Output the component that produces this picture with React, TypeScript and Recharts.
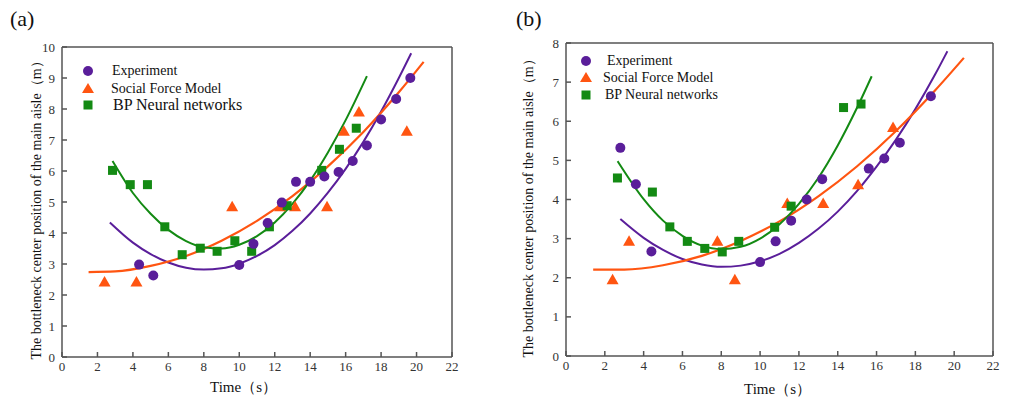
import React from 'react';
import { ComposedChart, Line, Scatter, XAxis, YAxis } from 'recharts';

const xTicks = [0, 2, 4, 6, 8, 10, 12, 14, 16, 18, 20, 22];
const yTicksA = [0, 1, 2, 3, 4, 5, 6, 7, 8, 9, 10];
const yTicksB = [0, 1, 2, 3, 4, 5, 6, 7, 8];

// panel (a) measured points
const expA = [
  { x: 4.35, y: 2.98 }, { x: 5.15, y: 2.63 }, { x: 10.0, y: 2.97 }, { x: 10.8, y: 3.65 },
  { x: 11.6, y: 4.32 }, { x: 12.4, y: 4.98 }, { x: 13.2, y: 5.65 }, { x: 14.0, y: 5.65 },
  { x: 14.8, y: 5.82 }, { x: 15.6, y: 5.97 }, { x: 16.4, y: 6.32 }, { x: 17.2, y: 6.82 },
  { x: 18.0, y: 7.66 }, { x: 18.85, y: 8.32 }, { x: 19.65, y: 9.0 },
];
const sfmA = [
  { x: 2.4, y: 2.42 }, { x: 4.2, y: 2.42 }, { x: 9.6, y: 4.85 }, { x: 12.3, y: 4.85 },
  { x: 13.15, y: 4.85 }, { x: 14.95, y: 4.85 }, { x: 15.9, y: 7.28 }, { x: 16.75, y: 7.9 },
  { x: 19.45, y: 7.28 },
];
const bpA = [
  { x: 2.85, y: 6.02 }, { x: 3.85, y: 5.56 }, { x: 4.82, y: 5.56 }, { x: 5.8, y: 4.2 },
  { x: 6.78, y: 3.3 }, { x: 7.8, y: 3.51 }, { x: 8.75, y: 3.41 }, { x: 9.75, y: 3.75 },
  { x: 10.7, y: 3.41 }, { x: 11.7, y: 4.2 }, { x: 12.7, y: 4.88 }, { x: 14.65, y: 6.02 },
  { x: 15.65, y: 6.7 }, { x: 16.6, y: 7.38 },
];
// panel (a) fitted curves
const fitExpA = [
  { x: 2.7, y: 4.34 }, { x: 4, y: 3.69 }, { x: 5, y: 3.32 }, { x: 6, y: 3.05 }, { x: 7, y: 2.88 },
  { x: 8, y: 2.82 }, { x: 9, y: 2.86 }, { x: 10, y: 3.01 }, { x: 11, y: 3.26 }, { x: 12, y: 3.61 },
  { x: 13, y: 4.07 }, { x: 14, y: 4.63 }, { x: 15, y: 5.3 }, { x: 16, y: 6.07 }, { x: 17, y: 6.94 },
  { x: 18, y: 7.92 }, { x: 19, y: 9.0 }, { x: 19.7, y: 9.8 },
];
const fitSfmA = [
  { x: 1.5, y: 2.74 }, { x: 3, y: 2.76 }, { x: 5, y: 2.94 }, { x: 7, y: 3.26 }, { x: 9, y: 3.75 },
  { x: 11, y: 4.39 }, { x: 13, y: 5.19 }, { x: 15, y: 6.15 }, { x: 17, y: 7.26 }, { x: 19, y: 8.54 },
  { x: 20.4, y: 9.52 },
];
const fitBpA = [
  { x: 2.85, y: 6.32 }, { x: 4, y: 5.29 }, { x: 5, y: 4.62 }, { x: 6, y: 4.1 }, { x: 7, y: 3.74 },
  { x: 8, y: 3.54 }, { x: 9, y: 3.5 }, { x: 10, y: 3.62 }, { x: 11, y: 3.9 }, { x: 12, y: 4.34 },
  { x: 13, y: 4.94 }, { x: 14, y: 5.69 }, { x: 15, y: 6.6 }, { x: 16, y: 7.64 }, { x: 17.2, y: 9.06 },
];

// panel (b) measured points
const expB = [
  { x: 2.8, y: 5.32 }, { x: 3.6, y: 4.39 }, { x: 4.4, y: 2.67 }, { x: 10.0, y: 2.4 },
  { x: 10.8, y: 2.93 }, { x: 11.6, y: 3.46 }, { x: 12.4, y: 4.0 }, { x: 13.2, y: 4.52 },
  { x: 15.6, y: 4.79 }, { x: 16.4, y: 5.05 }, { x: 17.2, y: 5.45 }, { x: 18.8, y: 6.64 },
];
const sfmB = [
  { x: 2.4, y: 1.95 }, { x: 3.25, y: 2.93 }, { x: 7.8, y: 2.93 }, { x: 8.7, y: 1.95 },
  { x: 11.4, y: 3.9 }, { x: 13.25, y: 3.9 }, { x: 15.05, y: 4.38 }, { x: 16.85, y: 5.84 },
];
const bpB = [
  { x: 2.65, y: 4.55 }, { x: 4.45, y: 4.19 }, { x: 5.35, y: 3.3 }, { x: 6.25, y: 2.93 },
  { x: 7.15, y: 2.75 }, { x: 8.05, y: 2.66 }, { x: 8.9, y: 2.93 }, { x: 10.75, y: 3.29 },
  { x: 11.6, y: 3.83 }, { x: 14.3, y: 6.35 }, { x: 15.2, y: 6.44 },
];
const fitExpB = [
  { x: 2.8, y: 3.5 }, { x: 4, y: 3.02 }, { x: 5, y: 2.71 }, { x: 6, y: 2.48 }, { x: 7, y: 2.34 },
  { x: 8, y: 2.28 }, { x: 9, y: 2.31 }, { x: 10, y: 2.42 }, { x: 11, y: 2.61 }, { x: 12, y: 2.89 },
  { x: 13, y: 3.25 }, { x: 14, y: 3.69 }, { x: 15, y: 4.22 }, { x: 16, y: 4.84 }, { x: 17, y: 5.53 },
  { x: 18, y: 6.31 }, { x: 19, y: 7.18 }, { x: 19.65, y: 7.79 },
];
const fitSfmB = [
  { x: 1.4, y: 2.21 }, { x: 3, y: 2.21 }, { x: 5, y: 2.32 }, { x: 7, y: 2.56 }, { x: 9, y: 2.94 },
  { x: 11, y: 3.44 }, { x: 13, y: 4.08 }, { x: 15, y: 4.85 }, { x: 17, y: 5.75 }, { x: 19, y: 6.78 },
  { x: 20.5, y: 7.62 },
];
const fitBpB = [
  { x: 2.66, y: 4.98 }, { x: 4, y: 4.01 }, { x: 5, y: 3.46 }, { x: 6, y: 3.07 }, { x: 7, y: 2.82 },
  { x: 8, y: 2.73 }, { x: 9, y: 2.79 }, { x: 10, y: 3.0 }, { x: 11, y: 3.37 }, { x: 12, y: 3.89 },
  { x: 13, y: 4.55 }, { x: 14, y: 5.38 }, { x: 15, y: 6.35 }, { x: 15.75, y: 7.15 },
];

const PURPLE = '#5a1e9a';
const ORANGE = '#ff5511';
const GREEN = '#138a13';
const AXIS = '#555';
const SERIF = 'Liberation Serif, Times New Roman, serif';

const Circle = (p: any) => <circle cx={p.cx} cy={p.cy} r={5} fill={PURPLE} />;
const Tri = (p: any) => (
  <polygon points={`${p.cx},${p.cy - 6} ${p.cx - 6},${p.cy + 4.5} ${p.cx + 6},${p.cy + 4.5}`} fill={ORANGE} />
);
const Sq = (p: any) => <rect x={p.cx - 4.5} y={p.cy - 4.5} width={9} height={9} fill={GREEN} />;

const tickStyle = { fontFamily: SERIF, fontSize: 13, fill: '#333' };

function LegendBox({ left, top, rows, sizes, gaps }: { left: number; top: number; rows: number[]; sizes: number[]; gaps: number[] }) {
  const items = [
    { name: 'Experiment', m: <circle cx={6} cy={6} r={5} fill={PURPLE} /> },
    { name: 'Social Force Model', m: <polygon points="6,0 0,10 12,10" fill={ORANGE} /> },
    { name: 'BP Neural networks', m: <rect x={1.5} y={1.5} width={9} height={9} fill={GREEN} /> },
  ];
  return (
    <div style={{ position: 'absolute', left, top, fontFamily: SERIF, color: '#111' }}>
      {items.map((it, i) => (
        <div key={it.name} style={{ position: 'absolute', top: rows[i], left: 0, display: 'flex', alignItems: 'center', whiteSpace: 'nowrap' }}>
          <svg width={12} height={12} style={{ marginRight: gaps[i] }}>{it.m}</svg>
          <span style={{ fontSize: sizes[i], lineHeight: '14px' }}>{it.name}</span>
        </div>
      ))}
    </div>
  );
}

function Panel(props: {
  width: number; yMax: number; yTicks: number[];
  margin: { top: number; right: number; bottom: number; left: number };
  exp: any[]; sfm: any[]; bp: any[]; fExp: any[]; fSfm: any[]; fBp: any[];
}) {
  return (
    <ComposedChart width={props.width} height={399} margin={props.margin} style={{ fontFamily: SERIF }}>
      <XAxis dataKey="x" type="number" domain={[0, 22]} ticks={xTicks} allowDataOverflow
        stroke={AXIS} strokeWidth={1.5} tickSize={-5} tickMargin={10} tick={tickStyle} height={30} />
      <XAxis xAxisId="top" orientation="top" type="number" domain={[0, 22]} ticks={xTicks}
        stroke={AXIS} strokeWidth={1.5} tick={false} tickLine={false} height={10} />
      <YAxis dataKey="y" type="number" domain={[0, props.yMax]} ticks={props.yTicks} allowDataOverflow
        stroke={AXIS} strokeWidth={1.5} tickSize={-5} tickMargin={12} tick={tickStyle} width={30} />
      <YAxis yAxisId="right" orientation="right" type="number" domain={[0, props.yMax]}
        stroke={AXIS} strokeWidth={1.5} tick={false} tickLine={false} width={10} />
      <Line data={props.fExp} dataKey="y" type="monotone" stroke={PURPLE} strokeWidth={2} dot={false} isAnimationActive={false} />
      <Line data={props.fSfm} dataKey="y" type="monotone" stroke={ORANGE} strokeWidth={2.2} dot={false} isAnimationActive={false} />
      <Line data={props.fBp} dataKey="y" type="monotone" stroke={GREEN} strokeWidth={2} dot={false} isAnimationActive={false} />
      <Scatter data={props.sfm} dataKey="y" shape={Tri} isAnimationActive={false} />
      <Scatter data={props.bp} dataKey="y" shape={Sq} isAnimationActive={false} />
      <Scatter data={props.exp} dataKey="y" shape={Circle} isAnimationActive={false} />
    </ComposedChart>
  );
}

const label = { position: 'absolute' as const, fontFamily: SERIF, color: '#111', whiteSpace: 'nowrap' as const };
const yLabel = 'The bottleneck center position of the main aisle（m）';

export default function App() {
  return (
    <div style={{ position: 'absolute', left: 0, top: 0, width: 1009, height: 399, background: '#fff', overflow: 'hidden' }}>
      <div style={{ position: 'absolute', left: 0, top: 0 }}>
        <Panel width={505} yMax={10} yTicks={yTicksA} margin={{ top: 37, right: 43, bottom: 12, left: 32 }}
          exp={expA} sfm={sfmA} bp={bpA} fExp={fitExpA} fSfm={fitSfmA} fBp={fitBpA} />
      </div>
      <div style={{ position: 'absolute', left: 505, top: 0 }}>
        <Panel width={504} yMax={8} yTicks={yTicksB} margin={{ top: 33, right: 6, bottom: 13, left: 31 }}
          exp={expB} sfm={sfmB} bp={bpB} fExp={fitExpB} fSfm={fitSfmB} fBp={fitBpB} />
      </div>
      <LegendBox left={82} top={64} rows={[0, 18, 34]} sizes={[14, 14, 16]} gaps={[18, 17, 19]} />
      <LegendBox left={580} top={54} rows={[0, 17, 34]} sizes={[14, 14, 14]} gaps={[15, 11, 13]} />
      <div style={{ ...label, left: 10, top: 6, fontSize: 22 }}>(a)</div>
      <div style={{ ...label, left: 516, top: 6, fontSize: 22 }}>(b)</div>
      <div style={{ ...label, left: 210, top: 378, fontSize: 15 }}>Time（s）</div>
      <div style={{ ...label, left: 744, top: 380, fontSize: 15 }}>Time（s）</div>
      <div style={{ ...label, left: 37, top: 207, fontSize: 14, transform: 'translate(-50%, -50%) rotate(-90deg)' }}>{yLabel}</div>
      <div style={{ ...label, left: 529, top: 205, fontSize: 14, transform: 'translate(-50%, -50%) rotate(-90deg)' }}>{yLabel}</div>
    </div>
  );
}
